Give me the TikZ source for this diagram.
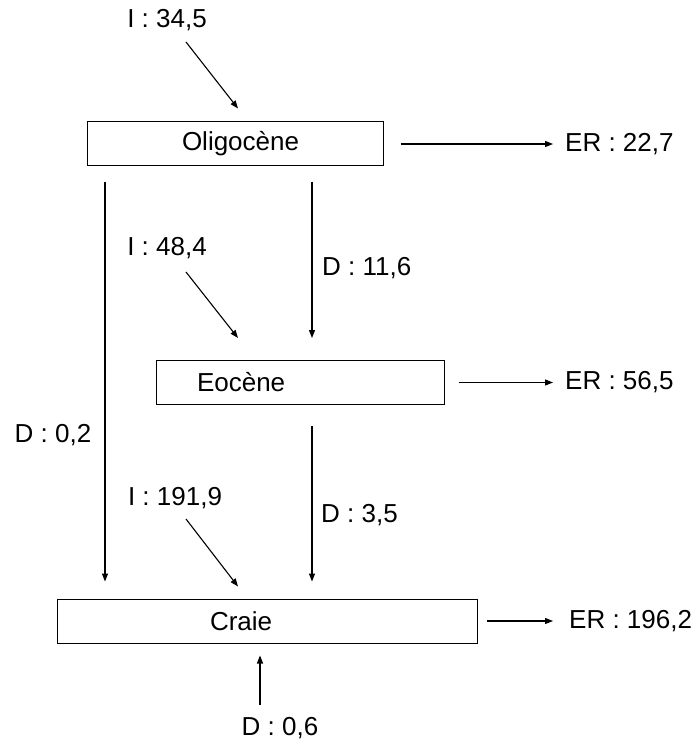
\documentclass[tikz,border=0pt]{standalone}
\usepackage{fontspec}
\setmainfont{Liberation Sans}
\usepackage{tikz}
\usetikzlibrary{arrows.meta}

\begin{document}
\begin{tikzpicture}[x=1pt, y=-1pt,
    layer/.style={rectangle, draw=black, line width=1pt, minimum height=44pt, inner sep=0pt, align=left, font=\fontsize{26}{30}\selectfont},
    lbl/.style={inner sep=0pt, font=\fontsize{26}{30}\selectfont},
    flow/.style={-{Triangle[length=8pt,width=6pt]}, line width=1.1pt}]
    \useasboundingbox (0,0) rectangle (699,746);

    % strates
    \node[layer, minimum width=296pt, text width=296pt] (olig) at (235,144) {\hspace*{95pt}Oligocène};
    \node[layer, minimum width=288pt, text width=288pt] (eoc) at (300,382.5) {\hspace*{41pt}Eocène};
    \node[layer, minimum width=420pt, text width=420pt] (craie) at (267,621) {\hspace*{153pt}Craie};

    % infiltration
    \node[lbl] (i1) at (167,20) {I : 34,5};
    \node[lbl] (i2) at (167,248) {I : 48,4};
    \node[lbl] (i3) at (175,498) {I : 191,9};
    \draw[flow] ([xshift=19pt,yshift=-22pt]i1.center) -- ([xshift=3pt,yshift=13pt]olig.north);
    \draw[flow] ([xshift=19pt,yshift=-24pt]i2.center) -- ([xshift=-62pt,yshift=22pt]eoc.north);
    \draw[flow] ([xshift=11pt,yshift=-21pt]i3.center) -- ([xshift=-29pt,yshift=12pt]craie.north);

    % drainance
    \node[lbl, anchor=west] (d1) at (322,268) {D : 11,6};
    \node[lbl] (d2) at (53,435) {D : 0,2};
    \node[lbl, anchor=west] (d3) at (321,515) {D : 3,5};
    \node[lbl] (d4) at (280,728) {D : 0,6};
    \draw[flow] ([xshift=-130pt,yshift=-15pt]olig.south) -- ([xshift=-162pt,yshift=17pt]craie.north);
    \draw[flow] ([xshift=77pt,yshift=-15pt]olig.south) -- ([xshift=12pt,yshift=22pt]eoc.north);
    \draw[flow] ([xshift=12pt,yshift=-21pt]eoc.south) -- ([xshift=45pt,yshift=17pt]craie.north);
    \draw[flow] ([xshift=-20pt,yshift=23pt]d4.center) -- ([xshift=-7pt,yshift=-12pt]craie.south);

    % ecoulement
    \node[lbl, anchor=west] (er1) at (565,144) {ER : 22,7};
    \node[lbl, anchor=west] (er2) at (565,382.5) {ER : 56,5};
    \node[lbl, anchor=west] (er3) at (569,621) {ER : 196,2};
    \draw[flow, shorten <=17pt, shorten >=12pt] (olig.east) -- (er1.west);
    \draw[flow, shorten <=14pt, shorten >=12pt] (eoc.east) -- (er2.west);
    \draw[flow, shorten <=9pt, shorten >=16pt] (craie.east) -- (er3.west);
\end{tikzpicture}
\end{document}
